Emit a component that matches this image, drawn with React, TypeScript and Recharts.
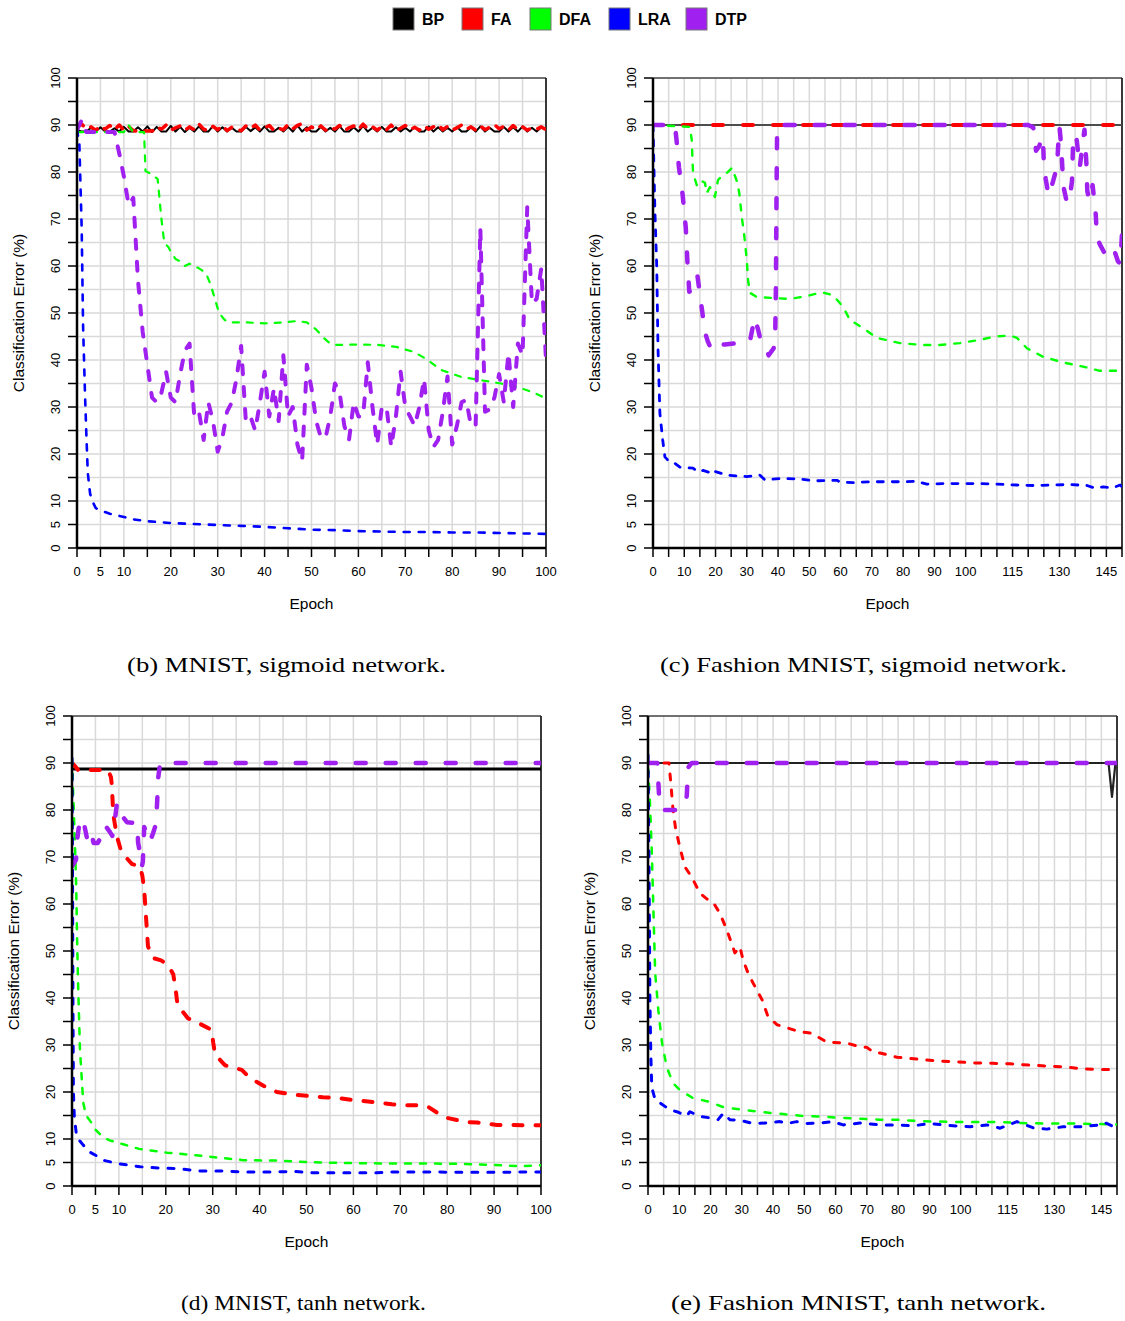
import React from "react";
import { LineChart, Line, XAxis, YAxis, CartesianGrid, ReferenceLine } from "recharts";

type Pt = [number, number];

const SANS = "'Liberation Sans', Arial, Helvetica, sans-serif";
const SERIF = "'Liberation Serif', 'Times New Roman', serif";

// ---- axes ----
const yTicks = [0, 5, 10, 15, 20, 25, 30, 35, 40, 45, 50, 55, 60, 65, 70, 75, 80, 85, 90, 95, 100];
const yLabels = [0, 5, 10, 20, 30, 40, 50, 60, 70, 80, 90, 100];
const xTicks100 = [0, 5, 10, 15, 20, 25, 30, 35, 40, 45, 50, 55, 60, 65, 70, 75, 80, 85, 90, 95, 100];
const xLabels100 = [0, 5, 10, 20, 30, 40, 50, 60, 70, 80, 90, 100];
const xTicks150 = [
  0, 5, 10, 15, 20, 25, 30, 35, 40, 45, 50, 55, 60, 65, 70, 75, 80, 85, 90, 95, 100, 105, 110, 115, 120,
  125, 130, 135, 140, 145, 150,
];
const xLabels150 = [0, 10, 20, 30, 40, 50, 60, 70, 80, 90, 100, 115, 130, 145];

const methods = ["BP", "FA", "DFA", "LRA", "DTP"];
const colors: Record<string, string> = {
  BP: "#000000",
  FA: "#ff0000",
  DFA: "#00ff00",
  LRA: "#0000ff",
  DTP: "#a020f0",
};

// ---- (b) MNIST, sigmoid: per-epoch values 0..100 ----
const bBP = [
  89.0, 88.6, 88.6, 89.4, 88.6, 89.5, 88.6, 88.6, 89.3, 88.6,
  89.6, 88.6, 88.6, 89.5, 88.6, 89.7, 88.5, 89.6, 88.6, 88.6,
  89.8, 88.6, 89.6, 88.5, 89.4, 88.6, 89.7, 88.6, 88.6, 89.8,
  88.6, 89.5, 88.6, 89.4, 88.6, 88.6, 89.6, 88.7, 89.5, 88.6,
  89.7, 88.6, 88.6, 89.4, 88.6, 89.6, 88.6, 89.9, 88.6, 89.5,
  88.6, 88.6, 89.6, 88.6, 89.4, 88.6, 89.7, 88.6, 88.6, 89.5,
  88.6, 89.8, 88.6, 89.4, 88.6, 89.6, 88.6, 88.6, 89.5, 88.6,
  89.4, 88.6, 89.6, 88.6, 88.6, 89.7, 88.6, 89.5, 88.6, 89.4,
  88.6, 89.6, 88.6, 88.6, 89.5, 88.6, 89.7, 88.6, 89.4, 88.6,
  88.6, 89.6, 88.6, 89.5, 88.6, 89.7, 88.6, 89.4, 88.6, 89.5,
  89.0,
];
const bFA = [
  89.5, 90.2, 89.2, 89.6, 88.9, 89.8, 89.1, 89.9, 89.0, 90.0,
  88.9, 89.7, 88.8, 88.7, 88.7, 88.7, 88.7, 89.6, 89.1, 90.0,
  88.9, 89.4, 89.8, 88.9, 89.6, 89.0, 90.2, 89.1, 88.8, 89.7,
  89.0, 89.9, 88.8, 89.5, 89.0, 88.8, 89.8, 89.2, 90.0, 88.9,
  89.4, 89.9, 88.8, 89.3, 89.0, 90.1, 89.2, 89.9, 90.3, 88.9,
  89.6, 89.0, 89.8, 88.9, 89.5, 89.1, 89.9, 88.8, 89.4, 89.8,
  89.0, 90.2, 89.1, 89.6, 88.9, 89.7, 89.0, 90.0, 88.8, 89.3,
  89.9, 89.0, 89.5, 88.9, 89.8, 89.1, 89.6, 90.1, 89.0, 89.7,
  88.9, 89.4, 90.0, 89.1, 89.6, 88.9, 89.8, 89.0, 89.5, 90.1,
  89.2, 89.7, 88.9, 89.9, 89.0, 89.6, 88.9, 89.4, 89.1, 89.6,
  89.0,
];
const bDTP = [
  89, 91, 88.5, 88.5, 88.5, 88.5, 88.5, 88.5, 88.5, 84,
  79, 73, 74.5, 57, 46, 39, 32, 31, 33, 37.5,
  32, 31, 37, 42, 43.5, 28, 29, 23, 31, 27,
  20.5, 23.5, 29, 31, 36, 43, 27, 28, 25, 31,
  37.5, 28, 34, 27, 41, 28, 30, 22, 18.5, 39,
  34, 27, 23.5, 23.5, 28, 35, 33, 26, 23, 31,
  28, 28, 39.5, 30, 22, 30, 30, 21.5, 28, 37.5,
  30, 28, 26, 30, 36, 25, 21.5, 23, 29, 36.5,
  22, 26, 31, 31.5, 26, 26, 68, 29, 29.5, 32,
  37, 31, 41.5, 30, 43.5, 41, 72.5, 52, 53, 59.5,
  40,
];
const bDFA: Pt[] = [
  [0, 88.5], [10, 88.5], [11, 90], [12, 88.5], [14.3, 88.5], [14.6, 80.2], [16, 79.5], [17.2, 78.5],
  [18, 70], [18.6, 65], [19.5, 64], [20, 63], [21, 61.5], [22, 61], [23, 60], [24, 60.5], [26, 59.5],
  [27.5, 58.5], [28.5, 56], [30.3, 50], [31.5, 48.5], [32.5, 48], [36, 48], [40, 47.8], [44, 48],
  [47, 48.3], [49, 48], [51, 46.5], [52.6, 44.7], [54, 43.5], [55.2, 43.2], [60, 43.3], [64.2, 43.2],
  [68, 42.8], [71.9, 41.7], [74.8, 40], [77.6, 37.9], [81.9, 36.4], [86.1, 35.7], [90.4, 35],
  [94.7, 34], [97.5, 33], [100, 31.8],
];
const bLRA: Pt[] = [
  [0, 89], [0.5, 86], [1, 68], [1.3, 47], [1.5, 40], [1.7, 33], [2, 24], [2.3, 16], [2.8, 11.5],
  [3.5, 9.5], [4, 8.5], [5, 8], [7, 7.3], [10, 6.6], [12, 6.1], [15, 5.7], [20, 5.3], [25, 5.1],
  [30, 4.9], [35, 4.7], [40, 4.5], [45, 4.2], [50, 3.9], [55, 3.8], [60, 3.6], [65, 3.5], [70, 3.4],
  [75, 3.4], [80, 3.3], [85, 3.3], [90, 3.2], [95, 3.1], [100, 3.0],
];

// ---- (c) Fashion MNIST, sigmoid ----
const cBP: Pt[] = [[0, 90], [150, 90]];
const cFA: Pt[] = [[0, 90], [150, 90]];
const cDFA: Pt[] = [
  [0, 90], [11.8, 89.6], [12.4, 86.8], [12.8, 79.8], [14, 77.2], [15, 78.3], [16.6, 77.7], [17.2, 75.5],
  [18.2, 76.8], [19.8, 74.7], [20.8, 78.3], [22.4, 79.4], [23.6, 79.8], [25.3, 80.9], [26.9, 77.9],
  [27.6, 75.5], [28.4, 70.4], [29.1, 67], [30, 61.3], [30.4, 57], [31, 54.3], [33.2, 53.4], [38, 53.2],
  [43.8, 53], [49.2, 53.6], [54, 54.4], [57.6, 53.8], [60.8, 51.3], [63, 48.5], [67.2, 46.8],
  [71.6, 44.7], [79, 43.6], [86.4, 43.2], [91.8, 43.2], [98.2, 43.6], [104.6, 44.3], [109.4, 45],
  [114.2, 45.2], [116.4, 44.7], [119.6, 42.5], [124.7, 40.7], [131.1, 39.5], [137.5, 38.6],
  [142.9, 37.7], [150, 37.7],
];
const cLRA: Pt[] = [
  [0, 90], [0.6, 72], [1.2, 59.8], [1.6, 42.5], [2.2, 28.7], [3.1, 23], [3.8, 19.4], [5, 18.5], [7, 18],
  [8.6, 17.2], [12.8, 17], [14.4, 16.2], [16, 16.5], [18.9, 15.9], [19.2, 16.4], [23.6, 15.5], [30, 15.2],
  [34.2, 15.5], [35.8, 14.5], [40.6, 14.8], [46, 14.7], [52.4, 14.3], [58.8, 14.4], [60, 14], [64, 13.9],
  [69.4, 14.1], [74.8, 14.1], [81.2, 14.1], [84, 14.2], [87.6, 13.6], [92.7, 13.7], [98.2, 13.7],
  [104.6, 13.7], [110, 13.6], [116.4, 13.4], [121.5, 13.3], [127.9, 13.4], [133.3, 13.5], [138.8, 13.3],
  [141, 12.8], [144, 13], [147, 12.8], [149.4, 13.4], [150, 13],
];
const cDTP: Pt[] = [
  [0, 90], [7, 90], [7.5, 87], [8.3, 81], [9.5, 75], [10.5, 68], [11, 61], [11.6, 54.5], [13.5, 55.5],
  [14.2, 58], [15, 54], [15.6, 51], [16.6, 46], [17.5, 44], [18.8, 42], [20.8, 43.2], [23, 43.3],
  [26.9, 43.6], [29.7, 43.6], [31, 44], [32.5, 49], [33.6, 46.5], [34.5, 44], [36.4, 42], [37, 41],
  [38.6, 42.5], [39.1, 46], [39.3, 55], [39.5, 75], [39.7, 89.6], [40, 90], [120, 90], [121.6, 89.5],
  [122.2, 87.2], [122.5, 84.5], [123.5, 85.5], [124.7, 87.5], [125, 82], [125.6, 78.5], [126, 77],
  [126.4, 75], [127.5, 77], [129.2, 81], [129.8, 88], [130, 89.6], [130.5, 86.1], [131, 80], [131.3, 76.8],
  [132.4, 73.4], [133.2, 74], [134, 78], [134.3, 85], [135.3, 88], [136, 84], [136.5, 81], [137.4, 86],
  [138, 89], [138.6, 82], [138.9, 76], [139.5, 74], [140.6, 77.2], [141.6, 71], [142, 66], [143, 64.5],
  [144.2, 63], [145.5, 62.5], [146.8, 61.5], [147.7, 63], [148.7, 61], [149.5, 60.5], [150, 67],
];

// ---- (d) MNIST, tanh ----
const dBP: Pt[] = [[0, 88.7], [100, 88.7]];
const dFA: Pt[] = [
  [0, 90], [0.5, 89.5], [1.3, 88.5], [7.7, 88.5], [8.3, 87], [8.5, 85.3], [8.8, 79], [9.6, 74.3],
  [10.4, 71.5], [11, 70.5], [12.8, 68.5], [14.5, 68], [15, 66], [15.4, 63], [15.8, 57], [16.2, 51],
  [17.3, 48.5], [19, 48], [20.5, 47], [21.6, 45], [22.2, 41], [22.5, 38.5], [24.7, 35.7], [26.9, 34.7],
  [29.8, 33.2], [30.1, 30.6], [30.5, 28], [31.6, 26.8], [32.6, 25.7], [36.2, 24.7], [37.9, 23],
  [41.6, 20.9], [43.7, 20], [47.5, 19.4], [50.1, 19.2], [53.5, 18.9], [56.1, 18.8], [59.9, 18.3],
  [62, 18.1], [65.7, 17.7], [68.2, 17.4], [70.6, 17.2], [74.2, 17.2], [76, 16.8], [78, 15.5],
  [79.9, 14.5], [84.2, 13.6], [86.4, 13.5], [90.6, 13], [92.8, 13], [97.1, 12.9], [100, 12.9],
];
const dDFA: Pt[] = [
  [0, 91], [0.2, 85], [0.6, 73.6], [0.9, 63.6], [1.1, 52], [1.3, 43], [1.7, 29], [2.4, 17.7], [3, 15],
  [4.2, 13.4], [5, 12], [6.6, 10.4], [8, 9.7], [10.2, 9.1], [14.3, 7.9], [20.2, 7.1], [25.8, 6.6],
  [31.6, 6], [36.5, 5.5], [43.7, 5.4], [50.1, 5.1], [57.8, 4.9], [65.7, 4.8], [75.7, 4.8], [82.7, 4.7],
  [89.8, 4.5], [95.5, 4.2], [100, 4.4],
];
const dLRA: Pt[] = [
  [0, 91], [0.1, 70], [0.2, 40], [0.3, 20], [0.5, 14.7], [1, 10.4], [2.4, 8.7], [3.8, 7.2], [6, 6],
  [7, 5.4], [10.2, 4.7], [14.5, 4.1], [18.8, 3.8], [22.4, 3.7], [27.3, 3.2], [31.6, 3.2], [36.5, 3],
  [43.7, 3], [47.2, 3.1], [51.4, 2.8], [56.5, 2.8], [60, 2.8], [65, 2.8], [68.5, 3], [75.7, 3],
  [82.7, 2.9], [89.8, 2.9], [100, 3],
];
const dDTP: Pt[] = [
  [0, 68], [0.85, 69.4], [1.1, 73.6], [1.4, 76], [1.9, 78.3], [2.7, 76.4], [3.4, 73], [4.2, 74.7],
  [4.6, 73], [5.5, 73], [6.2, 74.3], [7, 76.8], [8.1, 75.3], [8.6, 74.5], [9, 76.8], [9.6, 81.5],
  [10, 80.6], [10.5, 79], [11.7, 77.4], [13.9, 77.2], [14.1, 73], [14.5, 70.9], [14.9, 68], [15.1, 69],
  [15.4, 76.4], [16.6, 73.2], [17.3, 75.1], [17.9, 77], [18.1, 80.6], [18.4, 87], [18.8, 90], [100, 90],
];

// ---- (e) Fashion MNIST, tanh ----
const eBP: Pt[] = [[0, 90], [147.3, 90], [148.4, 82.8], [149.5, 90], [150, 90]];
const eFA: Pt[] = [
  [0, 90], [6.7, 90], [7.3, 85.7], [8, 80], [8.9, 75.7], [10.2, 72.1], [11.8, 67.9], [14, 65.7],
  [16.6, 62.3], [19, 61], [20.8, 60.4], [23, 58], [25.2, 54.5], [27.8, 49.6], [29.4, 50.9], [30.4, 48.1],
  [32, 45.3], [33.6, 43.2], [36.5, 39.6], [38.4, 36], [41.3, 34.3], [43.8, 33.8], [48.6, 32.8],
  [52.4, 32.5], [57.2, 30.6], [63.6, 30.4], [67.8, 29.6], [70, 29.5], [72, 28.5], [74.2, 28.3],
  [79.6, 27.4], [86, 27], [92.4, 26.6], [98.8, 26.4], [104, 26.2], [110.3, 26.1], [115.8, 26],
  [122.2, 25.7], [128.6, 25.5], [134, 25.3], [139.2, 24.9], [144.6, 24.8], [150, 24.8],
];
const eDFA: Pt[] = [
  [0, 89], [0.6, 82], [1.2, 71.5], [1.7, 59.4], [2.3, 45.3], [3.3, 37.4], [4.5, 30.4], [6, 25.3],
  [8, 21.9], [10.2, 20.4], [14.4, 18.7], [19.8, 17.9], [24, 16.8], [30.4, 16.2], [36.8, 15.7],
  [43.2, 15.3], [49.6, 14.9], [55, 14.8], [61.4, 14.5], [67.8, 14.3], [74.2, 14.1], [79.6, 14.1],
  [87, 13.8], [93.4, 13.7], [99.8, 13.6], [106.2, 13.6], [112.6, 13.6], [119, 13.4], [126.4, 13.3],
  [135, 13.3], [142.4, 13.2], [150, 13.1],
];
const eLRA: Pt[] = [
  [0, 91.7], [0.3, 70], [0.6, 40], [0.9, 28], [1.2, 21], [2.3, 18.3], [3.8, 17.7], [7, 16.2], [9.2, 15.8],
  [12.4, 14.9], [13.4, 15.8], [16.6, 14.8], [19.8, 14.5], [22.4, 14.1], [23.6, 15.1], [24, 15.5],
  [26.2, 14.1], [29.4, 14], [33.6, 13.3], [38, 13.4], [42.2, 13.7], [44.4, 13.3], [47.6, 13.7],
  [50.8, 13.3], [55, 13.4], [59.2, 13.7], [62.4, 13], [67.8, 13.4], [74.2, 13], [79.6, 13], [84.8, 12.8],
  [90.2, 13.3], [95.6, 12.9], [103, 12.6], [108.4, 13], [112.6, 12.3], [118, 13.7], [123.1, 12.4],
  [127.6, 12.1], [132.7, 12.6], [138.1, 12.6], [144.6, 13], [146, 13.5], [150, 12.3],
];
const eDTP: Pt[] = [
  [0, 90], [3, 90], [3.3, 86], [3.7, 81], [4.5, 80], [9.3, 80], [11.8, 81], [12.4, 83], [12.8, 89],
  [14, 90], [150, 90],
];

const byEpoch = (vals: number[]): Pt[] => vals.map((v, i) => [i, v] as Pt);

type Series = { name: string; data: Pt[]; width: number; dash?: string; color?: string };
type PanelCfg = {
  id: string;
  left: number;
  top: number;
  xMax: number;
  xTicks: number[];
  xLabels: number[];
  caption: string;
  capX: number;
  capW: number;
  series: Series[];
};

const PLOT_W = 469;
const PLOT_H = 470;

const panels: PanelCfg[] = [
  {
    id: "b", left: 77, top: 78, xMax: 100, xTicks: xTicks100, xLabels: xLabels100,
    caption: "(b) MNIST, sigmoid network.", capX: 127, capW: 319,
    series: [
      { name: "BP", data: byEpoch(bBP), width: 2 },
      { name: "FA", data: byEpoch(bFA), width: 3.5, dash: "8 9" },
      { name: "DFA", data: bDFA, width: 2.2, dash: "6 8" },
      { name: "LRA", data: bLRA, width: 2.6, dash: "6 9" },
      { name: "DTP", data: byEpoch(bDTP), width: 4, dash: "9 13" },
    ],
  },
  {
    id: "c", left: 653, top: 78, xMax: 150, xTicks: xTicks150, xLabels: xLabels150,
    caption: "(c) Fashion MNIST, sigmoid network.", capX: 660, capW: 407,
    series: [
      { name: "BP", data: cBP, width: 2, color: "#4d4d4d" },
      { name: "FA", data: cFA, width: 4, dash: "10 20" },
      { name: "DFA", data: cDFA, width: 2.4, dash: "6 9" },
      { name: "LRA", data: cLRA, width: 2.8, dash: "6 9" },
      { name: "DTP", data: cDTP, width: 4.5, dash: "10 20" },
    ],
  },
  {
    id: "d", left: 72, top: 716, xMax: 100, xTicks: xTicks100, xLabels: xLabels100,
    caption: "(d) MNIST, tanh network.", capX: 181, capW: 245,
    series: [
      { name: "BP", data: dBP, width: 3 },
      { name: "FA", data: dFA, width: 4, dash: "9 13" },
      { name: "DFA", data: dDFA, width: 2.5, dash: "6 9" },
      { name: "LRA", data: dLRA, width: 3, dash: "6 10" },
      { name: "DTP", data: dDTP, width: 4.5, dash: "10 20" },
    ],
  },
  {
    id: "e", left: 648, top: 716, xMax: 150, xTicks: xTicks150, xLabels: xLabels150,
    caption: "(e) Fashion MNIST, tanh network.", capX: 671, capW: 375,
    series: [
      { name: "BP", data: eBP, width: 2.2, color: "#222" },
      { name: "FA", data: eFA, width: 3, dash: "6 10" },
      { name: "DFA", data: eDFA, width: 2.5, dash: "6 10" },
      { name: "LRA", data: eLRA, width: 3, dash: "6 10" },
      { name: "DTP", data: eDTP, width: 4.5, dash: "10 20" },
    ],
  },
];

const ML = 80;
const MT = 12;
const MR = 12;
const XH = 50;

function YTick(props: any) {
  const { x, y, payload } = props;
  if (!yLabels.includes(payload.value)) return <g />;
  return (
    <text
      x={x}
      y={y}
      transform={`rotate(-90 ${x} ${y})`}
      textAnchor="middle"
      fontSize={13}
      fontFamily={SANS}
      fill="#000"
    >
      {payload.value}
    </text>
  );
}

function makeXTick(labels: number[]) {
  return (props: any) => {
    const { x, y, payload } = props;
    if (!labels.includes(payload.value)) return <g />;
    return (
      <text x={x} y={y} dy="0.71em" textAnchor="middle" fontSize={13} fontFamily={SANS} fill="#000">
        {payload.value}
      </text>
    );
  };
}

function Panel({ p }: { p: PanelCfg }) {
  return (
    <div style={{ position: "absolute", left: p.left - ML, top: p.top - MT }}>
      <LineChart
        width={PLOT_W + ML + MR}
        height={PLOT_H + MT + XH}
        margin={{ top: MT, right: MR, bottom: 0, left: 0 }}
      >
        <CartesianGrid stroke="#d9d9d9" strokeWidth={1.5} />
        <XAxis
          type="number"
          dataKey="x"
          domain={[0, p.xMax]}
          ticks={p.xTicks}
          interval={0}
          allowDataOverflow
          height={XH}
          tickSize={9}
          tickMargin={10}
          axisLine={{ stroke: "#000", strokeWidth: 2.5 }}
          tickLine={{ stroke: "#000", strokeWidth: 1.5 }}
          tick={makeXTick(p.xLabels)}
        />
        <YAxis
          type="number"
          domain={[0, 100]}
          ticks={yTicks}
          interval={0}
          allowDataOverflow
          width={ML}
          tickSize={9}
          tickMargin={8}
          axisLine={{ stroke: "#000", strokeWidth: 2.5 }}
          tickLine={{ stroke: "#000", strokeWidth: 1.5 }}
          tick={YTick}
        />
        <ReferenceLine y={100} stroke="#000" strokeWidth={1.2} />
        <ReferenceLine x={p.xMax} stroke="#000" strokeWidth={1.5} />
        {p.series.map((s) => (
          <Line
            key={s.name}
            name={s.name}
            data={s.data.map(([x, y]) => ({ x, y }))}
            dataKey="y"
            type="linear"
            stroke={s.color ?? colors[s.name]}
            strokeWidth={s.width}
            strokeDasharray={s.dash}
            strokeLinecap="round"
            strokeLinejoin="round"
            dot={false}
            activeDot={false}
            isAnimationActive={false}
          />
        ))}
      </LineChart>
    </div>
  );
}

const legendX = [393, 462, 530, 609, 686];

export default function App() {
  return (
    <div
      style={{
        position: "absolute",
        left: 0,
        top: 0,
        width: 1125,
        height: 1321,
        background: "#fff",
        fontFamily: SANS,
      }}
    >
      {panels.map((p) => (
        <Panel key={p.id} p={p} />
      ))}
      <svg
        width={1125}
        height={1321}
        style={{ position: "absolute", left: 0, top: 0, pointerEvents: "none" }}
      >
        {methods.map((m, i) => (
          <g key={m}>
            <rect x={legendX[i]} y={8} width={21} height={22} fill={colors[m]} stroke="#777" strokeWidth={1} />
            <text x={legendX[i] + 29} y={25} fontSize={16} fontWeight="bold" fontFamily={SANS} fill="#000">
              {m}
            </text>
          </g>
        ))}
        {panels.map((p) => {
          const cy = p.top + PLOT_H / 2;
          const cx = p.left + PLOT_W / 2;
          const lx = p.left - 53;
          const capY = p.top + PLOT_H + 124;
          return (
            <g key={p.id}>
              <text
                x={lx}
                y={cy}
                transform={`rotate(-90 ${lx} ${cy})`}
                textAnchor="middle"
                fontSize={15.5}
                fontFamily={SANS}
                fill="#000"
              >
                Classification Error (%)
              </text>
              <text x={cx} y={p.top + PLOT_H + 61} textAnchor="middle" fontSize={15.5} fontFamily={SANS} fill="#000">
                Epoch
              </text>
              <text
                x={p.capX}
                y={capY}
                textLength={p.capW}
                lengthAdjust="spacingAndGlyphs"
                fontSize={21}
                fontFamily={SERIF}
                fill="#000"
              >
                {p.caption}
              </text>
            </g>
          );
        })}
      </svg>
    </div>
  );
}
